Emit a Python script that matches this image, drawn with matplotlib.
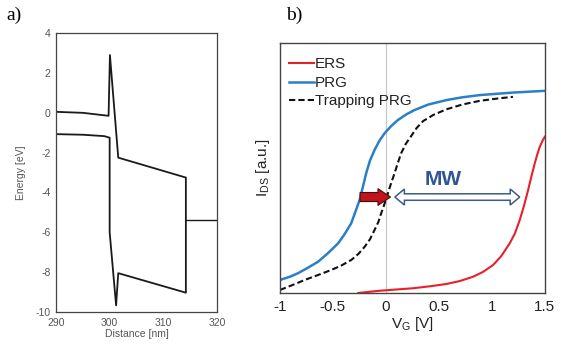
import matplotlib
matplotlib.use("Agg")
import matplotlib.pyplot as plt
import matplotlib.patches as mpatches

# ---- Panel a) band diagram data ----
band_x = [290, 295, 299.8, 300.05, 301.6, 314.2, 314.2, 301.6, 301.2, 300.0, 300.0, 299.0, 295, 290]
band_y = [0.05, 0.0, -0.15, 2.9, -2.25, -3.25, -9.03, -8.05, -9.67, -6.0, -1.25, -1.17, -1.1, -1.07]
metal_x = [314.2, 320]
metal_y = [-5.4, -5.4]
a_xticks = [290, 300, 310, 320]
a_yticks = [4, 2, 0, -2, -4, -6, -8, -10]

# ---- Panel b) transfer curves ----
prg_x = [-1, -0.9, -0.83, -0.74, -0.64, -0.55, -0.45, -0.39, -0.327, -0.29, -0.248, -0.215, -0.186,
         -0.15, -0.107, -0.06, -0.012, 0.05, 0.113, 0.19, 0.27, 0.4, 0.572, 0.72, 0.887, 1.2, 1.5]
prg_y = [0.052, 0.066, 0.079, 0.1, 0.125, 0.158, 0.199, 0.235, 0.279, 0.322, 0.372, 0.428, 0.479,
         0.53, 0.572, 0.61, 0.639, 0.668, 0.692, 0.714, 0.732, 0.754, 0.772, 0.783, 0.792, 0.802, 0.809]
trap_x = [-1, -0.88, -0.767, -0.64, -0.516, -0.42, -0.327, -0.26, -0.2, -0.15, -0.107, -0.07, -0.044,
          -0.01, 0.019, 0.05, 0.082, 0.113, 0.144, 0.19, 0.239, 0.29, 0.352, 0.45, 0.572, 0.72, 0.887, 1.05, 1.2]
trap_y = [0.012, 0.032, 0.052, 0.072, 0.092, 0.11, 0.132, 0.156, 0.185, 0.215, 0.252, 0.285, 0.319,
          0.36, 0.399, 0.44, 0.479, 0.52, 0.559, 0.598, 0.628, 0.66, 0.688, 0.713, 0.735, 0.754, 0.769, 0.778, 0.785]
ers_x = [-0.26, -0.15, -0.057, 0.1, 0.258, 0.42, 0.572, 0.7, 0.824, 0.92, 1.013, 1.09, 1.17, 1.22,
         1.264, 1.305, 1.343, 1.375, 1.406, 1.43, 1.453, 1.478, 1.5]
ers_y = [0.0, 0.005, 0.009, 0.014, 0.019, 0.027, 0.036, 0.048, 0.065, 0.085, 0.112, 0.148, 0.199, 0.24,
         0.292, 0.35, 0.412, 0.468, 0.519, 0.555, 0.585, 0.608, 0.625]
b_xticks = [-1, -0.5, 0, 0.5, 1, 1.5]
b_xticklabels = ["-1", "-0.5", "0", "0.5", "1", "1.5"]

# annotation anchors
shift_start, shift_end, arrow_y = -0.27, 0.07, 0.384
mw_start, mw_end = 0.085, 1.264

plt.rcParams['font.family'] = ['Liberation Sans', 'DejaVu Sans']

fig = plt.figure(figsize=(5.61, 3.49), dpi=100)

# Panel a
axa = fig.add_axes([0.0998, 0.106, 0.287, 0.799])
axa.plot(band_x, band_y, color='#1a1a1a', lw=1.3)
axa.plot(metal_x, metal_y, color='#1a1a1a', lw=1.0)
axa.set_xlim(290, 320)
axa.set_ylim(-10, 4)
axa.set_xticks(a_xticks)
axa.set_yticks(a_yticks)
axa.set_yticklabels([str(v) for v in a_yticks])
axa.tick_params(length=0, labelsize=7.5, colors='#555555', pad=4)
axa.set_xlabel('Distance [nm]', fontsize=7.5, color='#555555', labelpad=1)
axa.set_ylabel('Energy [eV]', fontsize=7.5, color='#555555', labelpad=7)
for s in axa.spines.values():
    s.set_color('#444444')
    s.set_linewidth(0.9)
fig.text(0.012, 0.955, 'a)', family='Liberation Serif', fontsize=14, va='center')

# Panel b
axb = fig.add_axes([0.499, 0.1605, 0.472, 0.716])
axb.axvline(0, color='#c8c8c8', lw=0.9, zorder=0)
axb.plot(ers_x, ers_y, color='#e8202a', lw=1.5, label='ERS')
axb.plot(prg_x, prg_y, color='#2a7fc8', lw=1.8, label='PRG')
axb.plot(trap_x, trap_y, color='#111111', lw=1.5, ls=(0, (3, 1.5)), label='Trapping PRG')
axb.set_xlim(-1, 1.5)
axb.set_ylim(0, 1)
axb.set_xticks(b_xticks)
axb.set_xticklabels(b_xticklabels)
axb.set_yticks([])
axb.tick_params(length=0, labelsize=11, colors='#222222', pad=5)
axb.set_xlabel('V$_\\mathregular{G}$ [V]', fontsize=11, color='#222222', labelpad=1)
axb.set_ylabel('I$_\\mathregular{DS}$ [a.u.]', fontsize=11, color='#222222', labelpad=6)
for s in axb.spines.values():
    s.set_color('#444444')
    s.set_linewidth(1.0)
leg = axb.legend(loc='upper left', frameon=False, fontsize=11, handlelength=1.6,
                 handletextpad=0.1, labelspacing=0.3, borderaxespad=0.2,
                 bbox_to_anchor=(0.0, 0.98))
for t in leg.get_texts():
    t.set_color('#222222')

# red shift arrow
red_arrow = mpatches.FancyArrowPatch((shift_start, arrow_y), (shift_end, arrow_y),
                                     arrowstyle='simple,tail_width=6.5,head_width=12,head_length=9',
                                     mutation_scale=1, fc='#c0141c', ec='#4a0a0a', lw=0.8, zorder=5)
axb.add_patch(red_arrow)

# memory window double arrow (hollow)
hl = 0.09     # head length in V
hw = 0.032    # head half height
sw = 0.013    # shaft half height
yc = arrow_y
poly = [(mw_start, yc), (mw_start + hl, yc + hw), (mw_start + hl, yc + sw),
        (mw_end - hl, yc + sw), (mw_end - hl, yc + hw), (mw_end, yc),
        (mw_end - hl, yc - hw), (mw_end - hl, yc - sw), (mw_start + hl, yc - sw),
        (mw_start + hl, yc - hw)]
axb.add_patch(mpatches.Polygon(poly, closed=True, fc='white', ec='#3d5a8a', lw=1.1, zorder=5))
axb.text(0.54, 0.455, 'MW', fontsize=15, fontweight='bold', color='#2f5597',
         ha='center', va='center')

fig.text(0.51, 0.955, 'b)', family='Liberation Serif', fontsize=14, va='center')

fig.savefig('out.png', dpi=100)
